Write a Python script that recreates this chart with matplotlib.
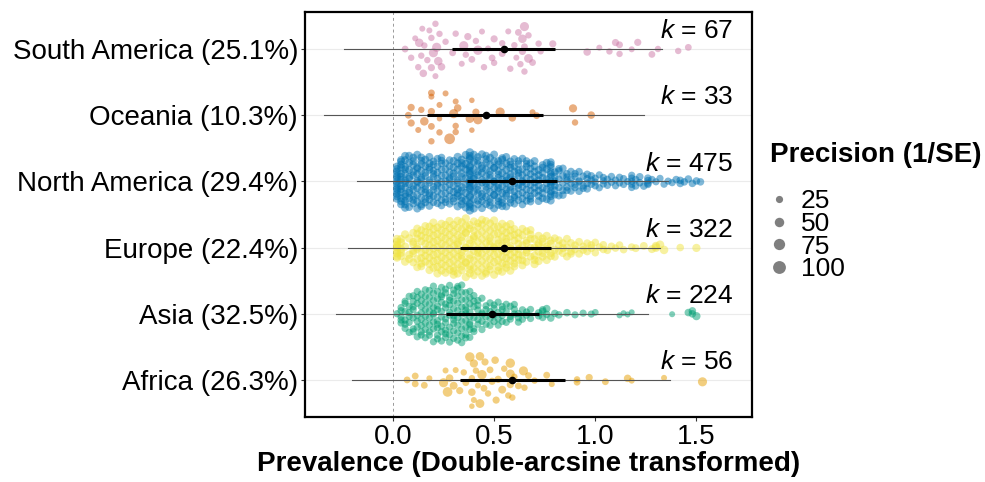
import numpy as np
import matplotlib.pyplot as plt
from matplotlib.lines import Line2D

plt.rcParams['font.family'] = ['Liberation Sans', 'DejaVu Sans']
plt.rcParams['mathtext.fontset'] = 'custom'
plt.rcParams['mathtext.it'] = 'Liberation Sans:italic'
plt.rcParams['mathtext.rm'] = 'Liberation Sans'

# groups from bottom to top
regions = ["Africa", "Asia", "Europe", "North America", "Oceania", "South America"]
region_pct = ["26.3%", "32.5%", "22.4%", "29.4%", "10.3%", "25.1%"]
k_values = [56, 224, 322, 475, 33, 67]
colors = ["#E69F00", "#009E73", "#F0E442", "#0072B2", "#D55E00", "#CC79A7"]

# pooled estimate, 95% CI and prediction interval per group
est = [0.59, 0.49, 0.55, 0.59, 0.46, 0.55]
ci_lo = [0.33, 0.26, 0.33, 0.365, 0.17, 0.29]
ci_hi = [0.85, 0.72, 0.78, 0.81, 0.74, 0.80]
pi_lo = [-0.20, -0.28, -0.22, -0.18, -0.34, -0.24]
pi_hi = [1.37, 1.26, 1.32, 1.36, 1.24, 1.33]

# small groups: single effect sizes and their precision (1/SE)
africa_es = [0.07, 0.11, 0.11, 0.155, 0.18, 0.25, 0.26, 0.27, 0.28, 0.30,
             0.31, 0.33, 0.35, 0.36, 0.38, 0.39, 0.39, 0.39, 0.40, 0.40,
             0.41, 0.42, 0.43, 0.43, 0.44, 0.45, 0.455, 0.47, 0.48, 0.49,
             0.505, 0.51, 0.52, 0.54, 0.55, 0.57, 0.58, 0.58, 0.58, 0.59,
             0.60, 0.62, 0.645, 0.65, 0.67, 0.70, 0.76, 0.785, 0.91, 0.91,
             0.97, 1.05, 1.16, 1.18, 1.34, 1.53]
africa_prec = [35, 35, 35, 35, 25, 70, 25, 80, 45, 50,
               25, 40, 30, 35, 75, 20, 30, 45, 55, 25,
               30, 25, 60, 65, 75, 35, 40, 30, 35, 40,
               45, 40, 40, 50, 30, 30, 65, 40, 75, 30,
               30, 35, 70, 30, 35, 30, 35, 25, 30, 35,
               40, 35, 45, 25, 25, 70]

oceania_es = [0.076, 0.09, 0.09, 0.125, 0.14, 0.155, 0.19, 0.19, 0.19, 0.19,
              0.19, 0.23, 0.23, 0.23, 0.26, 0.28, 0.30, 0.31, 0.31, 0.31,
              0.32, 0.38, 0.39, 0.39, 0.41, 0.42, 0.53, 0.59, 0.69, 0.71,
              0.89, 0.90, 0.98]
oceania_prec = [35, 40, 40, 25, 30, 60, 35, 30, 40, 35,
                25, 30, 25, 20, 25, 100, 70, 30, 25, 30,
                45, 60, 20, 20, 40, 70, 70, 45, 25, 35,
                55, 30, 45]

samerica_es = [0.06, 0.09, 0.11, 0.125, 0.13, 0.14, 0.145, 0.15, 0.155, 0.17,
               0.18, 0.19, 0.19, 0.20, 0.21, 0.21, 0.216, 0.224, 0.23, 0.24,
               0.26, 0.295, 0.31, 0.34, 0.35, 0.36, 0.37, 0.39, 0.41, 0.42,
               0.44, 0.45, 0.47, 0.49, 0.50, 0.50, 0.54, 0.54, 0.57, 0.58,
               0.60, 0.61, 0.62, 0.63, 0.64, 0.64, 0.65, 0.65, 0.65, 0.67,
               0.67, 0.69, 0.72, 0.73, 0.79, 0.96, 1.02, 1.07, 1.10, 1.12,
               1.12, 1.18, 1.21, 1.28, 1.31, 1.41, 1.46]
samerica_prec = [35, 30, 25, 30, 60, 30, 25, 45, 30, 30,
                 25, 40, 30, 70, 30, 25, 70, 60, 30, 45,
                 30, 35, 30, 25, 70, 30, 40, 35, 30, 75,
                 25, 30, 25, 35, 40, 30, 30, 35, 25, 30,
                 30, 25, 35, 30, 60, 40, 70, 30, 35, 65,
                 30, 35, 30, 30, 40, 45, 25, 30, 40, 30,
                 35, 25, 40, 35, 30, 30, 35]

# large groups: number of effect sizes at 0.00, 0.02, 0.04 ... (binned reading)
asia_counts = [0, 1, 5, 6, 6, 7, 7, 8, 8, 8, 9, 9, 9, 9, 9, 9, 9, 9, 9, 9,
               6, 5, 5, 4, 4, 4, 4, 4, 3, 3, 3, 3, 2, 2, 2, 0, 2, 3, 2, 1,
               1, 1, 0, 1, 0, 1, 0, 1, 0, 1, 1, 0, 0, 0, 0, 0, 1, 1, 1, 1,
               0, 0, 0, 0, 0, 0, 0, 0, 0, 1, 0, 0, 0, 1, 2, 1]
europe_counts = [0, 9, 5, 3, 3, 6, 7, 7, 7, 8, 8, 8, 8, 8, 8, 9, 9, 9, 9, 9,
                 9, 9, 9, 9, 9, 8, 8, 8, 8, 8, 7, 6, 6, 6, 5, 5, 5, 4, 4, 4,
                 3, 3, 3, 3, 3, 2, 2, 2, 2, 2, 2, 1, 2, 1, 1, 1, 1, 1, 0, 1,
                 1, 0, 1, 0, 1, 2, 1, 1, 0, 0, 0, 1, 0, 0, 0, 1]
namerica_counts = [0, 14, 13, 13, 10, 10, 10, 11, 9, 10, 9, 9, 10, 8, 9, 8, 9, 10, 8, 20,
                   9, 10, 10, 10, 10, 10, 11, 10, 10, 9, 9, 9, 9, 9, 9, 7, 7, 7, 6, 13,
                   6, 5, 5, 5, 4, 4, 4, 3, 4, 3, 3, 2, 3, 2, 2, 2, 2, 2, 1, 5,
                   2, 2, 1, 4, 1, 1, 1, 1, 1, 1, 1, 2, 1, 1, 1, 1, 1]
# typical precision per 0.1 wide stretch of the axis
asia_prec = [40, 40, 40, 40, 40, 40, 40, 45, 45, 40, 35, 25, 30, 25, 45, 55]
europe_prec = [55, 50, 55, 55, 50, 55, 50, 55, 50, 50, 45, 45, 50, 60, 45, 55]
namerica_prec = [50, 50, 45, 55, 50, 50, 45, 50, 45, 45, 40, 40, 45, 40, 45, 45]

legend_prec = [25, 50, 75, 100]


def expand(counts, prec):
    centers = np.round(np.arange(len(counts)) * 0.02, 2)
    es = np.repeat(centers, counts)
    p = np.repeat([prec[i // 5] for i in range(len(counts))], counts)
    return es, p


def van_der_corput(n):
    out = []
    for i in range(1, n + 1):
        v, denom, k = 0.0, 1.0, i
        while k:
            denom *= 2
            k, r = divmod(k, 2)
            v += r / denom
        out.append(v)
    return np.array(out)


def quasirandom(x, width=0.45):
    # same idea as ggbeeswarm::geom_quasirandom
    n = len(x)
    sd = np.std(x, ddof=1)
    iqr = np.subtract(*np.percentile(x, [75, 25]))
    bw = 0.9 * min(sd, iqr / 1.34) * n ** -0.2 * 0.5
    dens = np.exp(-0.5 * ((x[:, None] - x[None, :]) / bw) ** 2).sum(1)
    dens = dens / dens.max()
    rank = np.argsort(np.argsort(x, kind="stable"), kind="stable")
    return (van_der_corput(n)[rank] - 0.5) * 2 * dens * width


def size_of(prec):
    return 5.1 + 0.543 * np.asarray(prec, dtype=float)


groups = [
    (np.array(africa_es), np.array(africa_prec)),
    expand(asia_counts, asia_prec),
    expand(europe_counts, europe_prec),
    expand(namerica_counts, namerica_prec),
    (np.array(oceania_es), np.array(oceania_prec)),
    (np.array(samerica_es), np.array(samerica_prec)),
]

fig = plt.figure(figsize=(9.85, 4.82), dpi=100)
ax = fig.add_axes([0.3096, 0.1349, 0.4539, 0.8402])

ax.axvline(0, color="#9a9a9a", lw=0.7, ls=(0, (3, 3)), zorder=1)

for i, (es, prec) in enumerate(groups):
    y = i + 1
    off = quasirandom(es)
    ax.scatter(es, y + off, s=size_of(prec), color=colors[i], alpha=0.5,
               linewidths=0, zorder=2)
    ax.plot([pi_lo[i], pi_hi[i]], [y, y], color="#555555", lw=0.8, zorder=3)
    ax.plot([ci_lo[i], ci_hi[i]], [y, y], color="black", lw=2.2, zorder=4,
            solid_capstyle="butt")
    ax.scatter([est[i]], [y], s=20, color="black", zorder=5)
    ax.text(1.683, y + 0.27, r"$k$ = " + str(k_values[i]), fontsize=19,
            ha="right", va="center", zorder=6)

ax.set_xlim(-0.435, 1.775)
ax.set_ylim(0.44, 6.56)
ax.set_xticks([0, 0.5, 1.0, 1.5])
ax.set_xticklabels(["0.0", "0.5", "1.0", "1.5"])
ax.set_yticks(range(1, 7))
ax.set_yticklabels([r + " (" + p + ")" for r, p in zip(regions, region_pct)])
ax.tick_params(axis="both", labelsize=20, color="#333333", length=3,
               width=0.8, pad=2)
ax.yaxis.grid(True, color="#ebebeb", lw=0.8)
ax.set_axisbelow(True)
for sp in ax.spines.values():
    sp.set_linewidth(1.6)
    sp.set_color("black")
ax.set_xlabel("Prevalence (Double-arcsine transformed)", fontsize=20,
              fontweight="bold", labelpad=1)

# size legend
fig.text(770 / 985, 1 - 155 / 482, "Precision (1/SE)", fontsize=20,
         fontweight="bold", ha="left", va="center")
handles = [Line2D([], [], ls="", marker="o", markersize=1.2 * np.sqrt(size_of(p)),
                  markerfacecolor="black", markeredgewidth=0, alpha=0.5)
           for p in legend_prec]
fig.legend(handles, [str(p) for p in legend_prec],
           loc="upper left", bbox_to_anchor=(757 / 985, 1 - 176 / 482),
           frameon=False, fontsize=19, handlelength=0.7,
           handletextpad=0.45, labelspacing=-0.05, borderpad=0)

fig.savefig("out.png", dpi=100)
